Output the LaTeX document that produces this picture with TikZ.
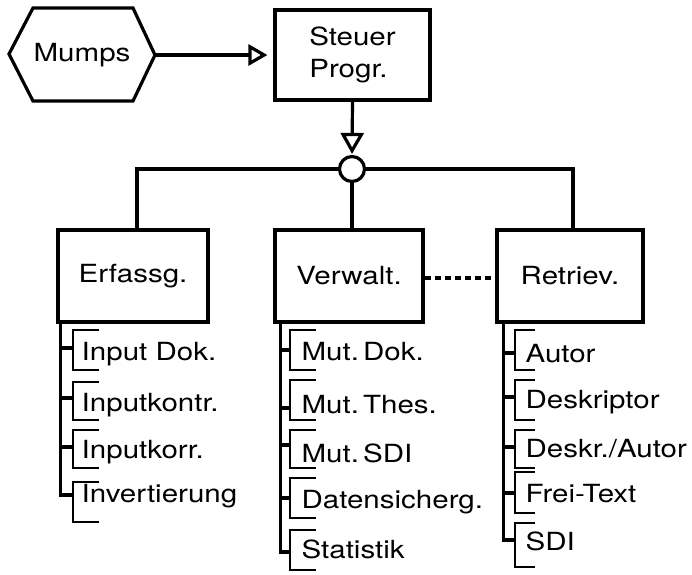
\documentclass[tikz,border=0pt]{standalone}
\usepackage{fontspec}
\setmainfont{TeX Gyre Heros}[FakeStretch=1.18]
\usetikzlibrary{arrows.meta,calc}
\newcommand\ditem[8]{%
  \node[itm] (#1) at (#2,#3) {#4};
  \draw[brk] (#5+#8,#6) -- (#5,#6) -- (#5,#7) -- (#5+#8,#7);
}
\begin{document}
\begin{tikzpicture}[x=1pt,y=-1pt,line width=3.2pt,
  every node/.style={font=\fontsize{25pt}{32pt}\selectfont},
  box/.style={draw,inner sep=0pt,minimum width=150pt,minimum height=92pt},
  itm/.style={anchor=base west,inner sep=0pt},
  brk/.style={line width=2.6pt},
  dsh/.style={dash pattern=on 6pt off 4pt}]
\useasboundingbox (0,0) rectangle (692,574);
% Mumps hexagon
\draw (33,8) -- (133,8) -- (155,55) -- (133,101) -- (33,101) -- (9,54) -- cycle;
\node (mu) at (82,55) {Mumps};
\coordinate (mr) at (155,55);
% Steuer
\node[box,minimum width=155pt,minimum height=90pt,align=left] (st) at (352.5,55) {Steuer\\Progr.};
\draw[-{Triangle[open,length=19pt,width=21pt]},shorten >=6pt] (mr) -- (st.west);
% circle
\node[draw,circle,minimum size=25pt,inner sep=0pt] (ci) at (352,169) {};
\draw[-{Triangle[open,length=21pt,width=23pt]},shorten >=1pt] (st.south) -- (ci.north);
% boxes
\node[box] (erf) at (133,276) {Erfassg.};
\node[box,minimum width=148pt] (ver) at (349,276) {Verwalt.};
\node[box,minimum width=146pt] (ret) at (570,276) {Retriev.};
\draw (ci.west) -| ($(erf.north)+(4,0)$);
\draw (ci.east) -| ($(ret.north)+(3,0)$);
\draw (ci.south) -- (ci.south |- ver.north);
\draw[dsh] ($(ver.east)+(0,2)$) -- ($(ret.west)+(0,2)$);
% Erfassg items
\ditem{e1}{80}{360}{Input Dok.}{73}{330}{370}{26}
\ditem{e2}{80}{411}{Inputkontr.}{73}{382}{420}{26}
\ditem{e3}{80}{458}{Inputkorr.}{73}{430}{468}{26}
\ditem{e4}{80}{502}{Invertierung}{73}{482}{522}{26}
\draw ($(erf.south west)+(4,0)$) |- (73,495);
\foreach \y in {348,398,447} \draw (62,\y) -- (73,\y);
% Verwalt items
\ditem{v1}{300}{360}{Mut.\,Dok.}{290}{330}{370}{26}
\ditem{v2}{300}{413}{Mut.\,Thes.}{290}{380}{420}{26}
\ditem{v3}{300}{462}{Mut.\,SDI}{290}{430}{468}{26}
\ditem{v4}{300}{508}{Datensicherg.}{290}{478}{518}{26}
\ditem{v5}{300}{558}{Statistik}{290}{530}{570}{26}
\draw ($(ver.south west)+(7,0)$) |- (290,552);
\foreach \y in {350,408,445,498} \draw (282,\y) -- (290,\y);
% Retriev items
\ditem{r1}{524}{362}{Autor}{515}{330}{370}{20}
\ditem{r2}{524}{408}{Deskriptor}{515}{380}{420}{20}
\ditem{r3}{524}{457}{Deskr./Autor}{515}{430}{468}{20}
\ditem{r4}{524}{502}{Frei-Text}{515}{472}{513}{20}
\ditem{r5}{524}{550}{SDI}{515}{523}{567}{20}
\draw ($(ret.south west)+(8,0)$) |- (515,540);
\foreach \y in {353,397,447,493} \draw (505,\y) -- (515,\y);
\end{tikzpicture}
\end{document}
